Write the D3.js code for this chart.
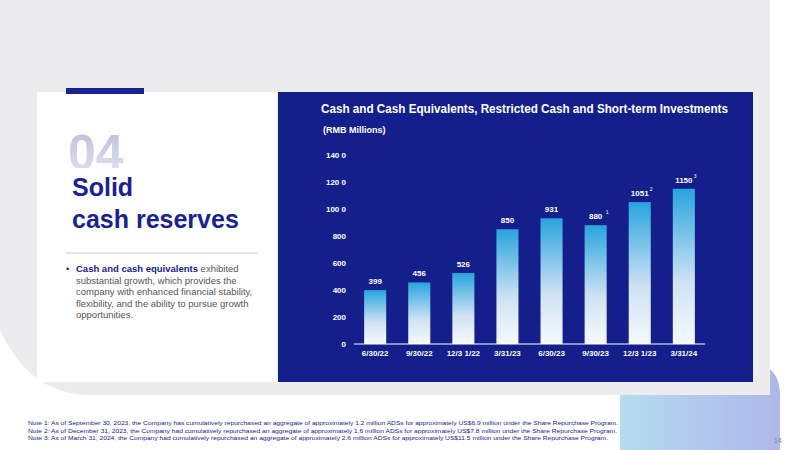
<!DOCTYPE html><html><head><meta charset="utf-8"><script src="https://cdn.jsdelivr.net/npm/d3@7"></script>
<style>body{margin:0;background:#fff;font-family:Arial,"Liberation Sans",sans-serif}</style></head><body><svg id="c" width="800" height="450"></svg>
<script>
const categories=["6/30/22","9/30/22","12/3 1/22","3/31/23","6/30/23","9/30/23","12/3 1/23","3/31/24"];
const values=[399,456,526,850,931,880,1051,1150];
const notes=["","","","","","1","2","3"];
const yTicks=[0,200,400,600,800,1000,1200,1400];
const yTickLabels=["0","200","400","600","800","100 0","120 0","140 0"];
const footnotes=["Note 1: As of September 30, 2023, the Company has cumulatively repurchased an aggregate of approximately 1.2 million ADSs for approximately US$6.9 million under the Share Repurchase Program.",
"Note 2: As of December 31, 2023, the Company had cumulatively repurchased an aggregate of approximately 1.6 million ADSs for approximately US$7.8 million under the Share Repurchase Program.",
"Note 3: As of March 31, 2024, the Company had cumulatively repurchased an aggregate of approximately 2.6 million ADSs for approximately US$11.5 million under the Share Repurchase Program."];
const footLens=[590,589,580];
const svg=d3.select("#c");
const defs=svg.append("defs");
const lg=defs.append("linearGradient").attr("id","blob").attr("x1",0).attr("x2",1);
lg.append("stop").attr("offset",0).attr("stop-color","#b4dcef");lg.append("stop").attr("offset",1).attr("stop-color","#aeb6ea");
const bg=defs.append("linearGradient").attr("id","bar").attr("x1",0).attr("x2",0).attr("y1",0).attr("y2",1);
bg.append("stop").attr("offset",0).attr("stop-color","#28a4de");bg.append("stop").attr("offset",0.6).attr("stop-color","#cfe2f3");bg.append("stop").attr("offset",1).attr("stop-color","#f6f9fd");
const zg=defs.append("linearGradient").attr("id","zero").attr("x1",0).attr("x2",0).attr("y1",0).attr("y2",1);
zg.append("stop").attr("offset",0).attr("stop-color","#b8bcd8");zg.append("stop").attr("offset",1).attr("stop-color","#e6e7f0");
defs.append("clipPath").attr("id","cl").append("rect").attr("x",0).attr("y",100).attr("width",270).attr("height",68);
svg.append("path").attr("d","M620,450 L620,395 Q620,362 655,362 L745,362 Q780,362 780,395 L780,450 Z").attr("fill","url(#blob)");
svg.append("path").attr("d","M0,0 L770,0 L770,395 L90,395 Q30,395 0,330 Z").attr("fill","#ececee");
svg.append("rect").attr("x",37).attr("y",92).attr("width",240).attr("height",290).attr("fill","#fff");
svg.append("rect").attr("x",66).attr("y",88).attr("width",78).attr("height",6).attr("fill","#1a2190");
svg.append("text").attr("x",68).attr("y",170).attr("font-size",50).attr("font-weight","bold").attr("fill","url(#zero)").attr("clip-path","url(#cl)").text("04");
svg.append("text").attr("x",72).attr("y",196).attr("font-size",25).attr("font-weight","bold").attr("fill","#1a2190").text("Solid");
svg.append("text").attr("x",72).attr("y",228).attr("font-size",25).attr("font-weight","bold").attr("fill","#1a2190").text("cash reserves");
svg.append("line").attr("x1",66).attr("x2",258).attr("y1",253).attr("y2",253).attr("stroke","#ccc");
const para=[["Cash and cash equivalents"," exhibited"],["","substantial growth, which provides the"],["","company with enhanced financial stability,"],["","flexibility, and the ability to pursue growth"],["","opportunities."]];
para.forEach((p,i)=>{const t=svg.append("text").attr("x",76).attr("y",272+i*11.5).attr("font-size",9.5).attr("fill","#555");
t.append("tspan").attr("font-weight","bold").attr("fill","#1a2190").text(p[0]);t.append("tspan").text(p[1]);});
svg.append("text").attr("x",66).attr("y",272).attr("font-size",9).attr("fill","#1a2190").text("•");
svg.append("rect").attr("x",278).attr("y",92).attr("width",475).attr("height",290).attr("fill","#141f8c");
svg.append("text").attr("x",321).attr("y",113).attr("font-size",12).attr("font-weight","bold").attr("fill","#fff").attr("textLength",407).attr("lengthAdjust","spacingAndGlyphs").text("Cash and Cash Equivalents, Restricted Cash and Short-term Investments");
svg.append("text").attr("x",323).attr("y",133).attr("font-size",9).attr("font-weight","bold").attr("fill","#fff").text("(RMB Millions)");
const x=d3.scaleBand().domain(categories).range([354,705]).paddingInner(0.5).paddingOuter(0.23);
const y=d3.scaleLinear().domain([0,1400]).range([344,155]);
const g=svg.append("g");
g.selectAll("rect.b").data(values).join("rect").attr("x",(d,i)=>x(categories[i])).attr("width",x.bandwidth()).attr("y",d=>y(d)).attr("height",d=>y(0)-y(d)).attr("fill","url(#bar)");
g.selectAll("text.v").data(values).join("text").attr("x",(d,i)=>x(categories[i])+x.bandwidth()/2).attr("y",d=>y(d)-6).attr("text-anchor","middle").attr("font-size",8).attr("font-weight","bold").attr("fill","#fff").text(d=>d);
g.selectAll("text.n").data(values).join("text").attr("x",(d,i)=>x(categories[i])+x.bandwidth()/2+10).attr("y",d=>y(d)-11).attr("font-size",5).attr("fill","#fff").text((d,i)=>notes[i]);
const ax=svg.append("g").attr("transform","translate(0,344)").call(d3.axisBottom(x).tickSize(0).tickPadding(6));
ax.select(".domain").attr("stroke","#fff").attr("d","M354,0H705");
ax.selectAll("text").attr("fill","#fff").attr("font-size",8).attr("font-weight","bold").attr("font-family","Arial,Liberation Sans");
const ay=svg.append("g").attr("transform","translate(349,0)").call(d3.axisLeft(y).tickValues(yTicks).tickFormat((d,i)=>yTickLabels[i]).tickSize(0));
ay.select(".domain").remove();
ay.selectAll("text").attr("fill","#fff").attr("font-size",8).attr("font-weight","bold").attr("font-family","Arial,Liberation Sans");
footnotes.forEach((f,i)=>svg.append("text").attr("x",28).attr("y",425+i*7.5).attr("font-size",6.2).attr("fill","#1a2190").attr("textLength",footLens[i]).attr("lengthAdjust","spacingAndGlyphs").text(f));
svg.append("text").attr("x",774).attr("y",443).attr("font-size",7).attr("fill","#888").text("14");
</script></body></html>
